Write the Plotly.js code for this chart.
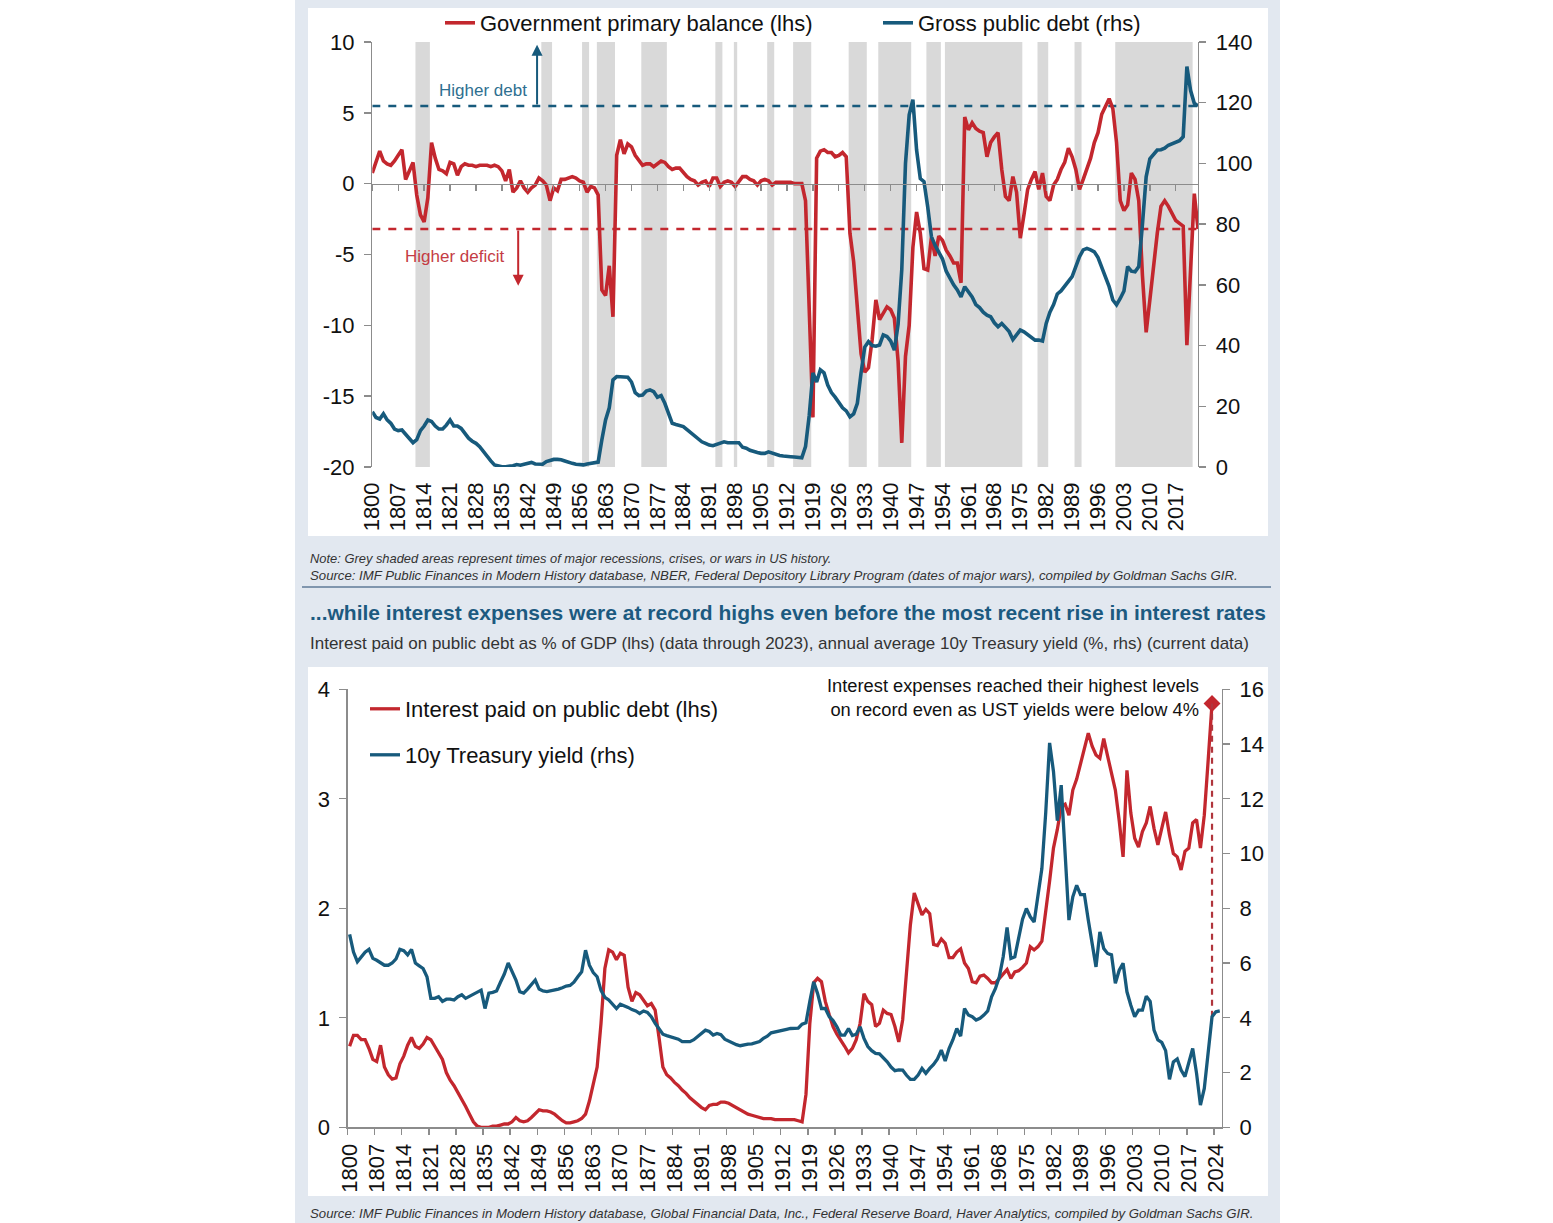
<!DOCTYPE html>
<html><head><meta charset="utf-8">
<script src="https://cdn.plot.ly/plotly-3.0.1.min.js"></script>
<style>html,body{margin:0;padding:0;background:#fff;}#chart{width:1553px;height:1223px;}</style>
</head><body><div id="chart"></div>
<script>
// ---------------- DATA ----------------
// Top panel: years 1800-2023
const topStartYear = 1800;
// Government primary balance, % of GDP (lhs)
const primaryBalance = [
  0.75, 1.5, 2.3, 1.6, 1.4, 1.3, 1.6, 2.0, 2.4, 0.3,      // 1800
  0.9, 1.5, -0.8, -2.2, -2.7, -1.0, 2.9, 1.8, 1.0, 0.9,   // 1810
  0.7, 1.5, 1.4, 0.6, 1.2, 1.4, 1.3, 1.3, 1.2, 1.3,       // 1820
  1.3, 1.3, 1.2, 1.3, 1.2, 0.9, 0.2, 1.0, -0.6, -0.3,     // 1830
  0.2, -0.3, -0.6, -0.3, -0.1, 0.4, 0.2, -0.1, -1.2, -0.3,// 1840
  -0.5, 0.3, 0.3, 0.4, 0.5, 0.4, 0.2, 0.1, -0.6, -0.2,    // 1850
  -0.3, -0.8, -7.5, -7.9, -5.8, -9.4, 2.0, 3.1, 2.1, 2.8, // 1860
  2.6, 2.0, 1.6, 1.3, 1.4, 1.4, 1.2, 1.4, 1.6, 1.5,       // 1870
  1.2, 1.0, 1.1, 1.1, 0.8, 0.5, 0.3, 0.2, -0.1, 0.1,      // 1880
  0.2, -0.2, 0.4, 0.4, -0.2, 0.1, 0.2, 0.1, -0.2, 0.2,    // 1890
  0.5, 0.5, 0.3, 0.2, -0.1, 0.2, 0.3, 0.2, -0.1, 0.1,     // 1900
  0.1, 0.1, 0.1, 0.1, 0.0, 0.0, 0.0, -1.2, -9.0, -16.5,   // 1910
  1.8, 2.3, 2.4, 2.2, 2.2, 1.9, 2.0, 2.2, 1.9, -3.5,      // 1920
  -5.5, -9.0, -12.0, -13.3, -13.0, -11.0, -8.2, -9.6, -9.2, -8.7, // 1930
  -8.9, -9.5, -12.5, -18.3, -12.2, -10.0, -4.5, -2.0, -3.5, -6.0, // 1940
  -6.1, -3.8, -5.1, -3.7, -4.0, -4.7, -5.1, -5.6, -5.6, -7.0,     // 1950
  4.7, 3.8, 4.3, 3.9, 3.7, 3.6, 1.9, 2.9, 3.3, 3.6,       // 1960
  1.0, -0.9, -1.2, 0.5, -0.6, -3.85, -2.2, -0.4, 0.3, 0.85, // 1970
  -0.4, 0.75, -0.9, -1.2, -0.1, 0.3, 1.0, 1.5, 2.5, 1.9,  // 1980
  1.0, -0.4, 0.3, 1.0, 1.8, 2.9, 3.6, 4.9, 5.4, 6.0,      // 1990
  5.3, 2.9, -1.2, -1.9, -1.5, 0.75, 0.3, -1.2, -6.5, -10.5, // 2000
  -8.2, -5.6, -3.5, -1.6, -1.2, -1.6, -2.1, -2.6, -2.8, -3.0, // 2010
  -11.4, -6.0, -0.7, -3.2                                 // 2020
];
// Gross public debt, % of GDP (rhs)
const grossDebt = [
  18.2, 16.3, 15.8, 17.5, 15.5, 14.4, 12.5, 12.0, 12.2, 10.8, // 1800
  9.5, 8.0, 9.0, 12.0, 13.5, 15.5, 15.0, 13.5, 12.5, 12.5,    // 1810
  13.8, 15.5, 13.5, 13.5, 12.7, 11.0, 9.5, 8.5, 7.8, 6.7,     // 1820
  5.0, 3.4, 2.0, 0.7, 0.3, 0.1, 0.1, 0.2, 0.4, 0.8,           // 1830
  0.6, 0.9, 1.2, 1.5, 1.0, 0.8, 0.9, 1.8, 2.3, 2.5,           // 1840
  2.5, 2.4, 2.0, 1.5, 1.2, 0.9, 0.7, 0.7, 1.0, 1.2,           // 1850
  1.3, 1.6, 9.0, 15.5, 19.5, 28.7, 29.8, 29.8, 29.6, 29.6,    // 1860
  28.0, 24.5, 23.5, 23.7, 25.0, 25.4, 24.8, 23.0, 23.5, 21.0, // 1870
  17.7, 14.4, 14.0, 13.8, 13.3, 12.3, 11.3, 10.5, 9.5, 8.3,   // 1880
  7.8, 7.2, 7.0, 7.5, 8.0, 8.3, 8.0, 8.0, 8.1, 8.0,           // 1890
  6.5, 6.2, 5.5, 5.0, 4.8, 4.5, 4.5, 5.0, 4.5, 4.0,           // 1900
  3.8, 3.6, 3.6, 3.4, 3.3, 3.2, 3.0, 6.7, 17.0, 31.0,         // 1910
  28.0, 32.0, 31.0, 27.0, 24.5, 23.0, 21.0, 19.5, 18.5, 16.5, // 1920
  17.5, 21.0, 31.0, 39.5, 41.3, 40.0, 39.8, 40.2, 43.5, 43.0, // 1930
  41.5, 38.5, 47.0, 65.0, 100.0, 116.0, 121.0, 104.4, 95.0, 94.0, // 1940
  85.7, 75.9, 73.0, 70.5, 68.5, 64.5, 62.0, 60.0, 58.3, 56.0, // 1950
  59.4, 57.5, 56.0, 53.5, 52.5, 51.0, 50.0, 49.5, 47.5, 46.2, // 1960
  47.3, 46.0, 44.6, 42.0, 43.5, 45.1, 44.5, 43.5, 42.5, 41.8, // 1970
  41.8, 41.5, 47.3, 51.0, 53.5, 57.0, 58.0, 59.5, 61.0, 62.7, // 1980
  66.0, 69.3, 71.5, 72.0, 71.5, 70.9, 69.0, 66.0, 63.0, 59.4, // 1990
  55.0, 53.4, 55.5, 58.0, 66.0, 64.5, 64.3, 66.0, 80.0, 95.6, // 2000
  101.5, 103.0, 104.4, 104.5, 105.0, 106.0, 106.6, 107.0, 107.5, 108.8, // 2010
  131.9, 124.0, 119.8, 118.9                                  // 2020
];
// Major recessions, crises or wars (start year, end year)
const episodeStart = [1812, 1846, 1857, 1861, 1873, 1893, 1898, 1907, 1914, 1929, 1937, 1950, 1955, 1980, 1990, 2001];
const episodeEnd   = [1815, 1848, 1858, 1865, 1879, 1894, 1898, 1908, 1918, 1933, 1945, 1953, 1975, 1982, 1991, 2021];
const topTickYears = [1800,1807,1814,1821,1828,1835,1842,1849,1856,1863,1870,1877,1884,1891,1898,1905,1912,1919,1926,1933,1940,1947,1954,1961,1968,1975,1982,1989,1996,2003,2010,2017];
const pbTicks = [-20, -15, -10, -5, 0, 5, 10];
const pbTickText = ['-20', '-15', '-10', '-5', '0', '5', '10'];
const debtTicks = [0, 20, 40, 60, 80, 100, 120, 140];

// Bottom panel
const botStartYear = 1800;
// Interest paid on public debt, % of GDP (lhs), 1800-2023
const interestPaid = [
  0.74, 0.84, 0.84, 0.80, 0.80, 0.72, 0.62, 0.60, 0.75, 0.55, // 1800
  0.48, 0.44, 0.45, 0.58, 0.65, 0.75, 0.82, 0.74, 0.72, 0.76, // 1810
  0.82, 0.80, 0.74, 0.68, 0.62, 0.50, 0.43, 0.38, 0.32, 0.26, // 1820
  0.19, 0.12, 0.05, 0.01, 0.00, 0.00, 0.00, 0.01, 0.01, 0.02, // 1830
  0.03, 0.03, 0.05, 0.09, 0.06, 0.05, 0.06, 0.09, 0.13, 0.16, // 1840
  0.15, 0.15, 0.14, 0.12, 0.09, 0.06, 0.04, 0.04, 0.05, 0.06, // 1850
  0.08, 0.12, 0.24, 0.38, 0.55, 0.95, 1.45, 1.62, 1.60, 1.53, // 1860
  1.59, 1.57, 1.28, 1.15, 1.23, 1.21, 1.16, 1.11, 1.13, 1.07, // 1870
  0.82, 0.55, 0.48, 0.45, 0.41, 0.38, 0.34, 0.31, 0.27, 0.24, // 1880
  0.21, 0.18, 0.16, 0.20, 0.21, 0.21, 0.23, 0.23, 0.22, 0.20, // 1890
  0.18, 0.16, 0.14, 0.12, 0.11, 0.10, 0.09, 0.08, 0.08, 0.08, // 1900
  0.07, 0.07, 0.07, 0.07, 0.07, 0.07, 0.06, 0.05, 0.30, 0.95, // 1910
  1.32, 1.36, 1.33, 1.15, 1.03, 0.92, 0.85, 0.80, 0.74, 0.68, // 1920
  0.72, 0.80, 0.95, 1.22, 1.15, 1.12, 0.92, 0.95, 1.07, 1.04, // 1930
  1.03, 0.92, 0.78, 0.98, 1.45, 1.85, 2.14, 2.05, 1.94, 1.99, // 1940
  1.95, 1.67, 1.66, 1.72, 1.68, 1.55, 1.55, 1.60, 1.63, 1.50, // 1950
  1.45, 1.33, 1.32, 1.38, 1.39, 1.36, 1.32, 1.32, 1.36, 1.40, // 1960
  1.44, 1.36, 1.42, 1.43, 1.46, 1.50, 1.65, 1.62, 1.65, 1.70, // 1970
  1.95, 2.25, 2.55, 2.72, 2.93, 2.95, 2.85, 3.08, 3.18, 3.32, // 1980
  3.45, 3.60, 3.48, 3.40, 3.37, 3.55, 3.39, 3.23, 3.08, 2.80, // 1990
  2.47, 3.26, 2.87, 2.64, 2.56, 2.70, 2.78, 2.93, 2.73, 2.58, // 2000
  2.73, 2.88, 2.67, 2.50, 2.47, 2.35, 2.52, 2.55, 2.78, 2.81, // 2010
  2.55, 2.85, 3.35, 3.87                                      // 2020
];
// Annual average 10y Treasury yield, % (rhs), 1800-2025
const treasuryYield = [
  7.05, 6.40, 6.05, 6.23, 6.40, 6.50, 6.17, 6.10, 6.00, 5.92, // 1800
  5.92, 6.00, 6.15, 6.50, 6.45, 6.30, 6.50, 6.00, 5.90, 5.80, // 1810
  5.50, 4.71, 4.71, 4.77, 4.60, 4.68, 4.68, 4.65, 4.77, 4.84, // 1820
  4.71, 4.78, 4.84, 4.92, 5.01, 4.34, 4.90, 4.93, 4.98, 5.30, // 1830
  5.60, 6.00, 5.70, 5.38, 4.95, 4.90, 5.05, 5.20, 5.38, 5.05, // 1840
  4.98, 4.96, 4.98, 5.00, 5.05, 5.10, 5.16, 5.18, 5.30, 5.50, // 1850
  5.68, 6.47, 5.92, 5.65, 5.50, 5.00, 4.75, 4.65, 4.50, 4.34, // 1860
  4.50, 4.45, 4.38, 4.30, 4.25, 4.16, 4.25, 4.20, 4.04, 3.80, // 1870
  3.60, 3.40, 3.35, 3.30, 3.27, 3.22, 3.13, 3.12, 3.13, 3.20, // 1880
  3.31, 3.45, 3.55, 3.50, 3.37, 3.43, 3.38, 3.22, 3.15, 3.07, // 1890
  3.02, 2.98, 3.02, 3.04, 3.05, 3.08, 3.13, 3.25, 3.33, 3.45, // 1900
  3.49, 3.52, 3.55, 3.58, 3.61, 3.61, 3.62, 3.77, 3.82, 4.60, // 1910
  5.31, 4.89, 4.34, 4.34, 4.05, 3.90, 3.67, 3.37, 3.37, 3.61, // 1920
  3.35, 3.40, 3.67, 3.25, 2.95, 2.80, 2.70, 2.68, 2.55, 2.39, // 1930
  2.20, 2.07, 2.10, 2.09, 1.90, 1.75, 1.75, 1.91, 2.15, 1.97, // 1940
  2.15, 2.30, 2.50, 2.82, 2.42, 2.88, 3.20, 3.61, 3.33, 4.34, // 1950
  4.10, 4.04, 3.92, 3.98, 4.10, 4.25, 4.77, 5.07, 5.50, 6.23, // 1960
  7.30, 6.17, 6.23, 6.90, 7.60, 7.99, 7.69, 7.50, 8.42, 9.45, // 1970
  11.50, 14.04, 13.00, 11.20, 12.50, 10.00, 7.57, 8.42, 8.84, 8.50, // 1980
  8.50, 7.57, 6.71, 5.86, 7.14, 6.53, 6.35, 6.30, 5.26, 5.74, // 1990
  5.99, 4.95, 4.46, 4.04, 4.28, 4.28, 4.79, 4.60, 3.55, 3.19, // 2000
  3.10, 2.80, 1.75, 2.39, 2.50, 2.09, 1.85, 2.39, 2.88, 1.97, // 2010
  0.81, 1.42, 2.70, 4.04, 4.22, 4.25                          // 2020
];
const botTickYears = [1800,1807,1814,1821,1828,1835,1842,1849,1856,1863,1870,1877,1884,1891,1898,1905,1912,1919,1926,1933,1940,1947,1954,1961,1968,1975,1982,1989,1996,2003,2010,2017,2024];
const ipTicks = [0, 1, 2, 3, 4];
const tyTicks = [0, 2, 4, 6, 8, 10, 12, 14, 16];

// ---------------- LAYOUT HELPERS ----------------
const W = 1553, H = 1223;
const px = v => v / W, py = v => 1 - v / H;
const FONT = 'Liberation Sans, Arial, Helvetica, sans-serif';
const RED = '#c3272e', BLUE = '#175a7c', AXC = '#8c8c8c', TXT = '#111111';

const yearsTop = primaryBalance.map((_, i) => topStartYear + i);
const yearsIP = interestPaid.map((_, i) => botStartYear + i);
const yearsTY = treasuryYield.map((_, i) => botStartYear + i);

const pbRange = [-20, 10], debtRange = [0, 140], ipRange = [0, 4], tyRange = [0, 16];
const topX = [px(372.3), px(1198)], topY = [py(467), py(42)];
const botX = [px(347.7), px(1221.7)], botY = [py(1127.3), py(689.3)];
const topXRange = [1800, 2023];
const botXRange = [1799.5, 2025.5];
const zeroPos = topY[0] + (0 - pbRange[0]) / (pbRange[1] - pbRange[0]) * (topY[1] - topY[0]);

const lastPB = primaryBalance[primaryBalance.length - 1];
const lastDebt = grossDebt[grossDebt.length - 1];
const lastIPYear = yearsIP[yearsIP.length - 1];
const lastIP = interestPaid[interestPaid.length - 1];
const tyAtLastIP = treasuryYield[yearsTY.indexOf(lastIPYear)];
const rhsPerLhs = (tyRange[1] - tyRange[0]) / (ipRange[1] - ipRange[0]);
const debtAsLhs = pbRange[0] + lastDebt * (pbRange[1] - pbRange[0]) / (debtRange[1] - debtRange[0]);

// ---------------- TRACES ----------------
const traces = [
  {x: yearsTop, y: primaryBalance, xaxis: 'x', yaxis: 'y', type: 'scatter', mode: 'lines',
   name: 'Government primary balance (lhs)', line: {color: RED, width: 3.6}, legend: 'legend', hoverinfo: 'skip'},
  {x: yearsTop, y: grossDebt, xaxis: 'x', yaxis: 'y2', type: 'scatter', mode: 'lines',
   name: 'Gross public debt (rhs)', line: {color: BLUE, width: 3.6}, legend: 'legend3', hoverinfo: 'skip'},
  {x: [topXRange[0]], y: [0], xaxis: 'x2', yaxis: 'y', type: 'scatter', mode: 'markers',
   marker: {opacity: 0, size: 1}, showlegend: false, hoverinfo: 'skip'},
  {x: yearsIP, y: interestPaid, xaxis: 'x3', yaxis: 'y3', type: 'scatter', mode: 'lines',
   name: 'Interest paid on public debt (lhs)', line: {color: RED, width: 3.3}, legend: 'legend2', hoverinfo: 'skip'},
  {x: [lastIPYear, lastIPYear], y: [tyAtLastIP, lastIP * rhsPerLhs], xaxis: 'x3', yaxis: 'y4', type: 'scatter', mode: 'lines',
   line: {color: '#b0353c', width: 2.2, dash: '6px,5px'}, showlegend: false, hoverinfo: 'skip'},
  {x: yearsTY, y: treasuryYield, xaxis: 'x3', yaxis: 'y4', type: 'scatter', mode: 'lines',
   name: '10y Treasury yield (rhs)', line: {color: BLUE, width: 3.3}, legend: 'legend4', hoverinfo: 'skip'},
  {x: [lastIPYear], y: [lastIP], xaxis: 'x3', yaxis: 'y3', type: 'scatter', mode: 'markers',
   marker: {symbol: 'diamond', size: 13, color: RED}, showlegend: false, hoverinfo: 'skip'},
  {x: [botXRange[0]], y: [0], xaxis: 'x4', yaxis: 'y3', type: 'scatter', mode: 'markers',
   marker: {opacity: 0, size: 1}, showlegend: false, hoverinfo: 'skip'}
];

// ---------------- SHAPES ----------------
const shapes = [
  {type: 'rect', xref: 'paper', yref: 'paper', x0: px(295), x1: px(1280), y0: 0, y1: 1,
   fillcolor: '#e2e8f0', line: {width: 0}, layer: 'below'},
  {type: 'rect', xref: 'paper', yref: 'paper', x0: px(308), x1: px(1268), y0: py(536), y1: py(8),
   fillcolor: '#ffffff', line: {width: 0}, layer: 'below'},
  {type: 'rect', xref: 'paper', yref: 'paper', x0: px(308), x1: px(1268), y0: py(1196), y1: py(667),
   fillcolor: '#ffffff', line: {width: 0}, layer: 'below'},
  {type: 'line', xref: 'paper', yref: 'paper', x0: px(302), x1: px(1271), y0: py(587), y1: py(587),
   line: {color: '#5f7b98', width: 1.5}}
];
episodeStart.forEach((s, i) => {
  shapes.push({type: 'rect', xref: 'x', yref: 'y', x0: s - 0.35, x1: episodeEnd[i] + 0.55,
    y0: pbRange[0], y1: pbRange[1], fillcolor: '#d9d9d9', line: {width: 0}, layer: 'below'});
});
shapes.push({type: 'line', xref: 'x', yref: 'y', x0: topXRange[0], x1: topXRange[1], y0: lastPB, y1: lastPB,
  line: {color: RED, width: 2.5, dash: '8px,8px'}, layer: 'below'});
shapes.push({type: 'line', xref: 'x', yref: 'y2', x0: topXRange[0], x1: topXRange[1], y0: lastDebt, y1: lastDebt,
  line: {color: BLUE, width: 2.5, dash: '8px,8px'}, layer: 'below'});

// ---------------- ANNOTATIONS ----------------
const ann = [
  {xref: 'x', yref: 'y', x: 1830, y: 6.6, text: 'Higher debt', showarrow: false,
   font: {family: FONT, size: 17, color: '#2e6f90'}},
  {xref: 'x', yref: 'y', x: 1822.3, y: -5.15, text: 'Higher deficit', showarrow: false,
   font: {family: FONT, size: 17, color: '#c43c44'}},
  {xref: 'x', yref: 'y', x: 1844.5, y: 9.8, axref: 'x', ayref: 'y', ax: 1844.5, ay: debtAsLhs,
   text: '', showarrow: true, arrowhead: 2, arrowsize: 1.1, arrowwidth: 2, arrowcolor: BLUE, standoff: 0, startstandoff: 0},
  {xref: 'x', yref: 'y', x: 1839.4, y: -7.2, axref: 'x', ayref: 'y', ax: 1839.4, ay: lastPB,
   text: '', showarrow: true, arrowhead: 2, arrowsize: 1.1, arrowwidth: 2, arrowcolor: RED, standoff: 0, startstandoff: 0},
  {xref: 'paper', yref: 'paper', x: px(1201), y: py(673), xanchor: 'right', yanchor: 'top', align: 'right',
   text: 'Interest expenses reached their highest levels<br>on record even as UST yields were below 4%',
   showarrow: false, font: {family: FONT, size: 18.3, color: TXT}},
  {xref: 'paper', yref: 'paper', x: px(308), y: py(558), xanchor: 'left', yanchor: 'middle', showarrow: false,
   text: '<i>Note: Grey shaded areas represent times of major recessions, crises, or wars in US history.</i>',
   font: {family: FONT, size: 12.9, color: '#333333'}},
  {xref: 'paper', yref: 'paper', x: px(308), y: py(575), xanchor: 'left', yanchor: 'middle', showarrow: false,
   text: '<i>Source: IMF Public Finances in Modern History database, NBER, Federal Depository Library Program (dates of major wars), compiled by Goldman Sachs GIR.</i>',
   font: {family: FONT, size: 13.2, color: '#333333'}},
  {xref: 'paper', yref: 'paper', x: px(308), y: py(612), xanchor: 'left', yanchor: 'middle', showarrow: false,
   text: '<b>...while interest expenses were at record highs even before the most recent rise in interest rates</b>',
   font: {family: FONT, size: 21, color: '#1c5a80'}},
  {xref: 'paper', yref: 'paper', x: px(308), y: py(643), xanchor: 'left', yanchor: 'middle', showarrow: false,
   text: 'Interest paid on public debt as % of GDP (lhs) (data through 2023), annual average 10y Treasury yield (%, rhs) (current data)',
   font: {family: FONT, size: 17, color: '#333333'}},
  {xref: 'paper', yref: 'paper', x: px(308), y: py(1213), xanchor: 'left', yanchor: 'middle', showarrow: false,
   text: '<i>Source: IMF Public Finances in Modern History database, Global Financial Data, Inc., Federal Reserve Board, Haver Analytics, compiled by Goldman Sachs GIR.</i>',
   font: {family: FONT, size: 13.2, color: '#333333'}}
];

const yAxisCommon = {showgrid: false, zeroline: false, showline: true, linecolor: AXC, linewidth: 1.4,
  ticks: 'outside', ticklen: 7, tickcolor: AXC, tickwidth: 1.4, tickfont: {family: FONT, size: 22, color: TXT},
  ticklabelstandoff: 5, fixedrange: true};
const legCommon = {bgcolor: 'rgba(0,0,0,0)', borderwidth: 0, font: {family: FONT, size: 22, color: TXT},
  xanchor: 'left', yanchor: 'middle', itemwidth: 30};

const layout = {
  width: W, height: H, autosize: false,
  margin: {l: 0, r: 0, t: 0, b: 0, pad: 0},
  paper_bgcolor: '#ffffff', plot_bgcolor: 'rgba(0,0,0,0)',
  font: {family: FONT, color: TXT},
  showlegend: true,
  xaxis: {domain: topX, range: topXRange, anchor: 'y', tickmode: 'array', tickvals: topTickYears,
    ticktext: topTickYears.map(String), tickangle: -90, ticks: '', showline: false, showgrid: false, zeroline: false,
    tickfont: {family: FONT, size: 22, color: TXT}, ticklabelstandoff: 10, fixedrange: true},
  xaxis2: {domain: topX, range: topXRange, overlaying: 'x', anchor: 'free', position: zeroPos, side: 'bottom',
    tickmode: 'array', tickvals: topTickYears, showticklabels: false, ticks: 'outside', ticklen: 6, tickcolor: AXC,
    tickwidth: 1.3, showline: true, linecolor: AXC, linewidth: 1.3, showgrid: false, zeroline: false, fixedrange: true},
  yaxis: Object.assign({}, yAxisCommon, {domain: topY, range: pbRange, anchor: 'x', tickmode: 'array',
    tickvals: pbTicks, ticktext: pbTickText}),
  yaxis2: Object.assign({}, yAxisCommon, {overlaying: 'y', side: 'right', anchor: 'x', range: debtRange,
    tickmode: 'array', tickvals: debtTicks, ticktext: debtTicks.map(String)}),
  xaxis3: {domain: botX, range: botXRange, anchor: 'y3', tickmode: 'array', tickvals: botTickYears,
    ticktext: botTickYears.map(String), tickangle: -90, ticks: '', showline: false, showgrid: false, zeroline: false,
    tickfont: {family: FONT, size: 22, color: TXT}, ticklabelstandoff: 11, fixedrange: true},
  xaxis4: {domain: botX, range: botXRange, overlaying: 'x3', anchor: 'y3', side: 'bottom', tickmode: 'array',
    tickvals: botTickYears.map(v => v - 0.5), showticklabels: false, ticks: 'outside', ticklen: 6, tickcolor: AXC,
    tickwidth: 1.3, showline: true, linecolor: AXC, linewidth: 1.4, showgrid: false, zeroline: false, fixedrange: true},
  yaxis3: Object.assign({}, yAxisCommon, {domain: botY, range: ipRange, anchor: 'x3', tickmode: 'array',
    tickvals: ipTicks, ticktext: ipTicks.map(String)}),
  yaxis4: Object.assign({}, yAxisCommon, {overlaying: 'y3', side: 'right', anchor: 'x3', range: tyRange,
    tickmode: 'array', tickvals: tyTicks, ticktext: tyTicks.map(String)}),
  legend: Object.assign({}, legCommon, {x: px(440), y: py(23)}),
  legend3: Object.assign({}, legCommon, {x: px(878), y: py(23)}),
  legend2: Object.assign({}, legCommon, {x: px(365), y: py(709)}),
  legend4: Object.assign({}, legCommon, {x: px(365), y: py(755)}),
  shapes: shapes,
  annotations: ann
};

Plotly.newPlot('chart', traces, layout, {staticPlot: true, displayModeBar: false});
</script>
</body></html>
